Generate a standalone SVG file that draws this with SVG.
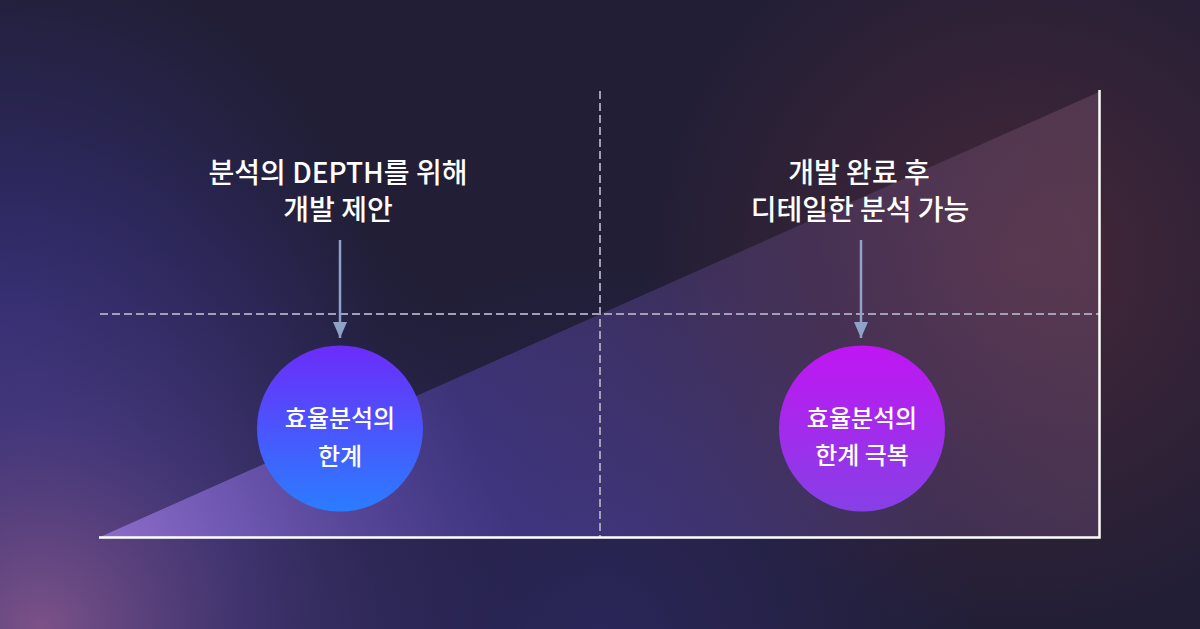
<svg xmlns="http://www.w3.org/2000/svg" width="1200" height="629" viewBox="0 0 1200 629">
  <defs>
    <radialGradient id="glowBL" cx="40" cy="629" r="520" gradientUnits="userSpaceOnUse">
      <stop offset="0" stop-color="#7c5288" stop-opacity="1"/>
      <stop offset="0.4" stop-color="#4c3c84" stop-opacity="0.7"/>
      <stop offset="1" stop-color="#2a2660" stop-opacity="0"/>
    </radialGradient>
    <radialGradient id="glowL" cx="0" cy="330" r="380" gradientUnits="userSpaceOnUse">
      <stop offset="0" stop-color="#34307a" stop-opacity="0.9"/>
      <stop offset="1" stop-color="#34307a" stop-opacity="0"/>
    </radialGradient>
    <radialGradient id="glowB" cx="600" cy="640" r="380" gradientUnits="userSpaceOnUse">
      <stop offset="0" stop-color="#2c2862" stop-opacity="0.8"/>
      <stop offset="1" stop-color="#2c2862" stop-opacity="0"/>
    </radialGradient>
    <radialGradient id="glowR" cx="1020" cy="260" r="380" gradientUnits="userSpaceOnUse">
      <stop offset="0" stop-color="#4a2838" stop-opacity="0.9"/>
      <stop offset="1" stop-color="#4a2838" stop-opacity="0"/>
    </radialGradient>
    <linearGradient id="tri" x1="100" y1="537" x2="1100" y2="92" gradientUnits="userSpaceOnUse">
      <stop offset="0" stop-color="#9a78dc" stop-opacity="0.8"/>
      <stop offset="0.35" stop-color="#5546b0" stop-opacity="0.5"/>
      <stop offset="0.7" stop-color="#6a4c8a" stop-opacity="0.35"/>
      <stop offset="1" stop-color="#8a6078" stop-opacity="0.35"/>
    </linearGradient>
    <linearGradient id="circL" x1="0" y1="0" x2="0" y2="1">
      <stop offset="0" stop-color="#6c2cfa"/>
      <stop offset="1" stop-color="#2a7dff"/>
    </linearGradient>
    <linearGradient id="circR" x1="0" y1="0" x2="0" y2="1">
      <stop offset="0" stop-color="#c016f2"/>
      <stop offset="1" stop-color="#8640e6"/>
    </linearGradient>
    <marker id="arrow" viewBox="0 0 16 14" refX="16" refY="7" markerWidth="16" markerHeight="14" markerUnits="userSpaceOnUse" orient="auto">
      <path d="M0,0 L16,7 L0,14 z" fill="#8fa3c9"/>
    </marker>
    <style>
      .lbl { font-family: "Noto Sans CJK KR", "Noto Sans", sans-serif; font-weight: 500; fill: #ffffff; text-anchor: middle; }
      .big { font-size: 28px; }
      .sml { font-size: 24px; }
      .dash { stroke: #a49fb8; stroke-width: 2; stroke-dasharray: 8 4; fill: none; }
      .axis { stroke: #ffffff; stroke-width: 2.5; fill: none; }
      .conn { stroke: #8fa3c9; stroke-width: 2.5; fill: none; }
    </style>
  </defs>

  <!-- background -->
  <rect width="1200" height="629" fill="#211e36"/>
  <rect width="1200" height="629" fill="url(#glowL)"/>
  <rect width="1200" height="629" fill="url(#glowB)"/>
  <rect width="1200" height="629" fill="url(#glowR)"/>
  <rect width="1200" height="629" fill="url(#glowBL)"/>

  <!-- area triangle -->
  <polygon points="100,537 1099,92 1099,537" fill="url(#tri)"/>

  <!-- grid lines -->
  <line class="dash" x1="100" y1="314" x2="1099" y2="314"/>
  <line class="dash" x1="600" y1="91" x2="600" y2="537"/>

  <!-- axes -->
  <polyline class="axis" points="99,537.5 1099.5,537.5 1099.5,90"/>

  <!-- connectors -->
  <g id="connectors">
    <line class="conn" x1="340" y1="240" x2="340" y2="338" marker-end="url(#arrow)"/>
    <line class="conn" x1="861" y1="240" x2="861" y2="338" marker-end="url(#arrow)"/>
  </g>

  <!-- top labels -->
  <g id="label-left">
    <text class="lbl big" x="338" y="183">분석의 DEPTH를 위해</text>
    <text class="lbl big" x="338" y="220">개발 제안</text>
  </g>
  <g id="label-right">
    <text class="lbl big" x="859" y="183">개발 완료 후</text>
    <text class="lbl big" x="860" y="220">디테일한 분석 가능</text>
  </g>

  <!-- circles -->
  <g id="node-left">
    <circle cx="340" cy="428.5" r="83" fill="url(#circL)"/>
    <text class="lbl sml" x="340" y="427">효율분석의</text>
    <text class="lbl sml" x="340" y="465">한계</text>
  </g>
  <g id="node-right">
    <circle cx="862" cy="428.5" r="83" fill="url(#circR)"/>
    <text class="lbl sml" x="862" y="427">효율분석의</text>
    <text class="lbl sml" x="862" y="464">한계 극복</text>
  </g>
</svg>
